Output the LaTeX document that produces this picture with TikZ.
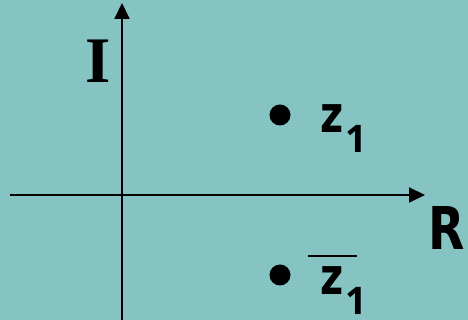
\documentclass[tikz,border=0pt]{standalone}
\usepackage{fontspec}
\setmainfont{Liberation Serif}
\newfontfamily\labsans{Open Sans}
\newfontfamily\labheavy{DejaVu Sans}
\usetikzlibrary{arrows.meta}
\definecolor{bgteal}{RGB}{134,195,195}
\tikzset{
  axis/.style={line width=2pt, -{Triangle[length=16pt,width=15pt]}},
  pointdot/.style={circle, fill=black, inner sep=0pt, minimum size=21pt},
  lab/.style={inner sep=0pt, anchor=base west},
}
\newcommand{\zglyph}{\scalebox{0.78}[1]{\labheavy\bfseries\fontsize{51}{51}\selectfont z}}
\newcommand{\oneglyph}{{\labsans\bfseries\fontsize{38}{38}\selectfont 1}}
\begin{document}
\begin{tikzpicture}[x=1pt,y=1pt]
\fill[bgteal] (0,0) rectangle (468,320);
\useasboundingbox (0,0) rectangle (468,320);
\coordinate (ybot) at (122,0);
\coordinate (ytop) at (122,317);
\coordinate (xleft) at (10,125);
\coordinate (xright) at (425,125);
\draw[axis] (ybot) -- (ytop);
\draw[axis] (xleft) -- (xright);
\node[pointdot] (p1) at (280,205) {};
\node[pointdot] (p2) at (280,45) {};
\node[lab, font=\bfseries\fontsize{65}{65}\selectfont] (I) at (85,237) {I};
\node[lab] (z1) at (320,187) {\zglyph};
\node[lab] (s1) at (345,167) {\oneglyph};
\node[lab] (z2) at (320,25) {\zglyph};
\node[lab] (s2) at (345,5.5) {\oneglyph};
\coordinate (barl) at (308,64);
\coordinate (barr) at (357,64);
\draw[line width=1.5pt] (barl) -- (barr);
\node[lab] (R) at (428,70) {\scalebox{0.8}[1]{\labheavy\bfseries\fontsize{59}{59}\selectfont R}};
\end{tikzpicture}
\end{document}
